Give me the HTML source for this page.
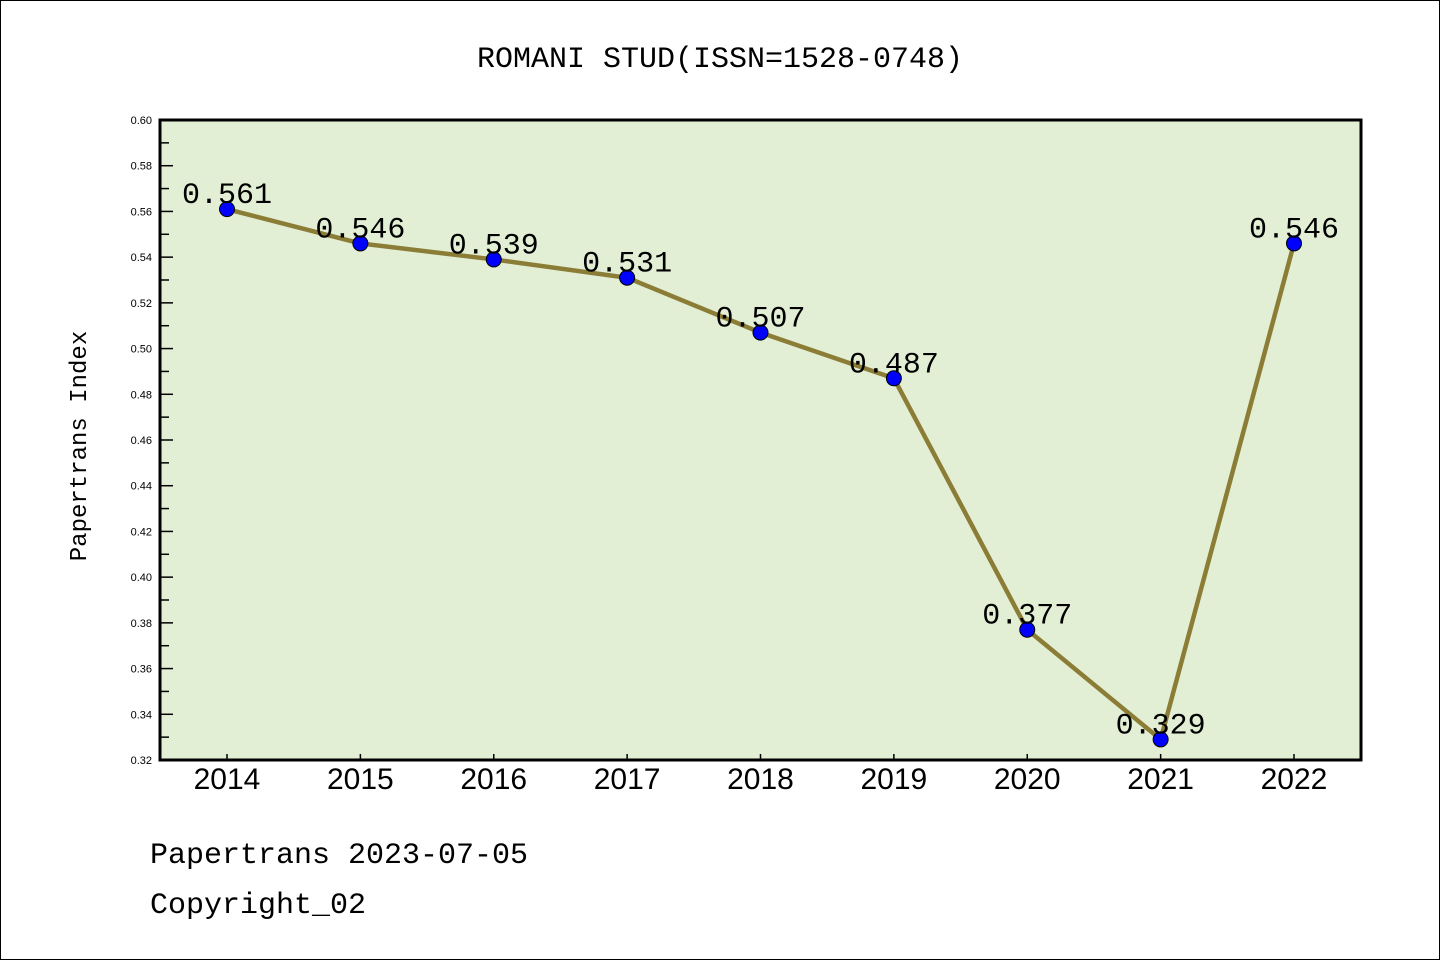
<!DOCTYPE html>
<html><head><meta charset="utf-8"><style>
body{margin:0;background:#fff}
svg{display:block}
text{font-family:"Liberation Sans","DejaVu Sans",sans-serif}
.mono{font-family:"Liberation Mono","DejaVu Sans Mono",monospace}
</style></head><body>
<svg id="c" width="1440" height="960" xmlns="http://www.w3.org/2000/svg">
<rect x="0.5" y="0.5" width="1439" height="959" fill="#fff" stroke="#000"/>
<text class="mono" x="720" y="67" font-size="30" text-anchor="middle">ROMANI STUD(ISSN=1528-0748)</text>
<rect x="160" y="120" width="1201" height="640" fill="#e2efd5"/>
<g id="yaxis"></g>
<g id="xaxis"></g>
<g id="series"></g>
<rect x="160" y="120" width="1201" height="640" fill="none" stroke="#000" stroke-width="3"/>
<text class="mono" x="86" y="446" font-size="24" text-anchor="middle" transform="rotate(-90 86 446)">Papertrans Index</text>
<text class="mono" x="150" y="863" font-size="30">Papertrans 2023-07-05</text>
<text class="mono" x="150" y="913" font-size="30">Copyright_02</text>
</svg>
<script>
const years=["2014","2015","2016","2017","2018","2019","2020","2021","2022"];
const values=[0.561,0.546,0.539,0.531,0.507,0.487,0.377,0.329,0.546];
const valueLabels=["0.561","0.546","0.539","0.531","0.507","0.487","0.377","0.329","0.546"];
const yTicks=[0.32,0.34,0.36,0.38,0.40,0.42,0.44,0.46,0.48,0.50,0.52,0.54,0.56,0.58,0.60];
const yMin=0.32,yMax=0.60;
const NS="http://www.w3.org/2000/svg";
function y(v){return 760-(v-yMin)/(yMax-yMin)*640;}
function x(i){return 227+i*(1294-227)/(years.length-1);}
function mk(t,a,p){const e=document.createElementNS(NS,t);for(const k in a)e.setAttribute(k,a[k]);p.appendChild(e);return e;}
const ya=document.getElementById('yaxis'),xa=document.getElementById('xaxis'),sg=document.getElementById('series');
yTicks.forEach((v,i)=>{
  const t=mk('text',{x:152,y:y(v)+4,'font-size':11,'text-anchor':'end'},ya);t.textContent=v.toFixed(2);
  
  
  const l=mk('line',{x1:160,x2:173,y1:y(v),y2:y(v),stroke:'#000','stroke-width':1.5},ya);
  
  
  if(i<yTicks.length-1){const m=(v+yTicks[i+1])/2;
    const ml=mk('line',{x1:160,x2:169,y1:y(m),y2:y(m),stroke:'#000','stroke-width':1.5},ya);
    
    }
});
years.forEach((yr,i)=>{
  const l=mk('line',{x1:x(i),x2:x(i),y1:760,y2:754,stroke:'#000','stroke-width':1.5},xa);
  
  
  const t=mk('text',{x:x(i),y:789,'font-size':30,'text-anchor':'middle'},xa);t.textContent=yr;
  
  
});
const pl=mk('polyline',{points:values.map((v,i)=>x(i)+','+y(v)).join(' '),fill:'none',stroke:'#8b7d35','stroke-width':4.5,'stroke-linejoin':'round'},sg);


values.forEach((v,i)=>{
  const c=mk('circle',{cx:x(i),cy:y(v),r:7.5,fill:'#0000ff',stroke:'#000','stroke-width':1},sg);
  
  
  const t=mk('text',{x:x(i),y:y(v)-6,'font-size':30,'text-anchor':'middle',class:'mono'},sg);t.textContent=valueLabels[i];
  
  
});
</script>
</body></html>
